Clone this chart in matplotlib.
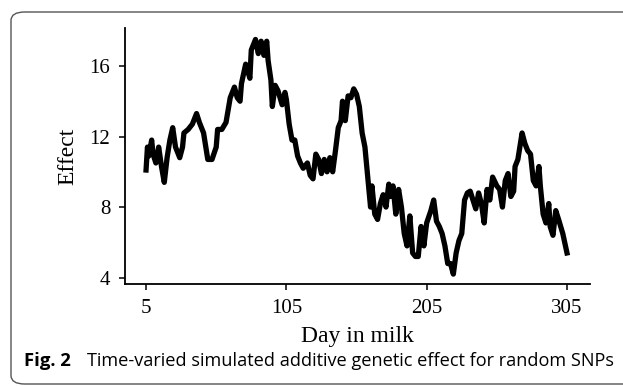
import numpy as np
import matplotlib
matplotlib.use("Agg")
import matplotlib.pyplot as plt
from matplotlib.patches import FancyBboxPatch

# values
day = [5, 6, 7, 9, 10, 12, 14, 16, 18, 20, 22, 24, 26, 29, 31, 32, 35, 38, 41, 43,
       46, 49, 52, 55, 56, 59, 62, 65, 68, 70, 72, 73, 76, 79, 80, 83, 85, 87, 89, 91,
       92, 94, 95, 97, 99, 102, 104, 105, 107, 109, 111, 113, 115, 117, 120, 122, 124, 126, 128, 130,
       132, 134, 136, 138, 140, 142, 144, 145, 147, 149, 151, 153, 155, 157, 159, 161, 163, 165, 166, 168,
       170, 172, 174, 176, 178, 179, 181, 183, 185, 187, 189, 191, 193, 195, 197, 199, 201, 203, 205, 208,
       210, 212, 214, 216, 218, 220, 222, 224, 226, 228, 230, 232, 234, 236, 238, 240, 242, 244, 246, 248,
       250, 252, 255, 257, 259, 261, 263, 265, 267, 268, 270, 273, 275, 277, 279, 281, 283, 285, 286, 288,
       290, 292, 293, 295, 297, 299, 302, 305]
effect = [10.1, 11.4, 10.9, 11.8, 11.0, 10.5, 11.4, 10.3, 9.4, 10.8, 11.8, 12.5, 11.4, 10.8, 11.4, 12.2, 12.4, 12.7, 13.3, 12.8,
          12.2, 10.7, 10.7, 11.4, 12.4, 12.4, 12.8, 14.2, 14.8, 14.2, 14.0, 15.0, 16.1, 15.3, 16.9, 17.5, 16.7, 17.4, 16.6, 17.4,
          16.3, 15.2, 13.7, 14.9, 14.6, 13.8, 14.5, 14.1, 12.7, 11.8, 11.8, 10.9, 10.5, 10.2, 10.5, 9.8, 9.6, 11.0, 10.7, 9.9,
          10.7, 10.0, 10.8, 10.0, 11.2, 12.5, 12.9, 14.0, 12.9, 14.3, 14.2, 14.7, 14.4, 13.7, 12.2, 11.4, 9.7, 8.0, 9.2, 7.6,
          7.3, 8.2, 8.7, 8.0, 9.3, 8.6, 9.2, 7.6, 9.0, 8.0, 6.5, 5.8, 7.5, 5.4, 5.2, 5.2, 6.9, 5.8, 7.1, 7.8,
          8.4, 7.2, 6.9, 6.5, 5.8, 4.8, 4.8, 4.2, 5.4, 6.1, 6.5, 8.4, 8.8, 8.9, 8.4, 7.9, 8.8, 8.2, 7.1, 9.0,
          8.4, 9.7, 9.2, 9.0, 8.0, 9.5, 9.9, 8.6, 8.9, 10.3, 10.7, 12.2, 11.6, 11.2, 11.0, 9.5, 9.2, 10.3, 9.2, 7.6,
          7.1, 8.2, 6.9, 6.4, 7.8, 7.3, 6.5, 5.4]

x_ticks = [5, 105, 205, 305]
y_ticks = [4, 8, 12, 16]

serif = ['Liberation Serif', 'DejaVu Serif']
sans = ['Open Sans', 'DejaVu Sans']

fig = plt.figure(figsize=(6.23, 3.86), dpi=100)

# rounded frame round the whole figure
frame = FancyBboxPatch((11/623, 1 - 384/386), 700/623, (384 - 12)/386,
                       boxstyle="round,pad=0,rounding_size=0.022",
                       transform=fig.transFigure, facecolor='none',
                       edgecolor='#555555', linewidth=1.0, clip_on=False)
fig.patches.append(frame)

ax = fig.add_axes([125/623, 1 - 284/386, (590 - 125)/623, (284 - 28)/386])
ax.plot(day, effect, color='black', linewidth=3.8, solid_joinstyle='round')

ax.set_xlim(-10, 321.4)
ax.set_ylim(3.64, 18.15)
ax.set_xticks(x_ticks)
ax.set_yticks(y_ticks)
ax.spines['top'].set_visible(False)
ax.spines['right'].set_visible(False)
ax.spines['left'].set_linewidth(1.3)
ax.spines['bottom'].set_linewidth(1.3)
ax.tick_params(direction='out', length=4.5, width=1.1, labelsize=15)
ax.tick_params(axis='x', pad=6)
ax.tick_params(axis='y', pad=6)
for lab in ax.get_xticklabels() + ax.get_yticklabels():
    lab.set_family(serif)

ax.set_xlabel('Day in milk', family=serif, fontsize=17, labelpad=6)
ax.set_ylabel('Effect', family=serif, fontsize=17, labelpad=8)

fig.text(24/623, 1 - 366/386, 'Fig. 2', family=sans,
         fontsize=13.3, fontweight='bold', va='baseline')
fig.text(87/623, 1 - 366/386, 'Time-varied simulated additive genetic effect for random SNPs',
         family=sans, fontsize=13.1, va='baseline')

fig.savefig('out.png', dpi=100)
